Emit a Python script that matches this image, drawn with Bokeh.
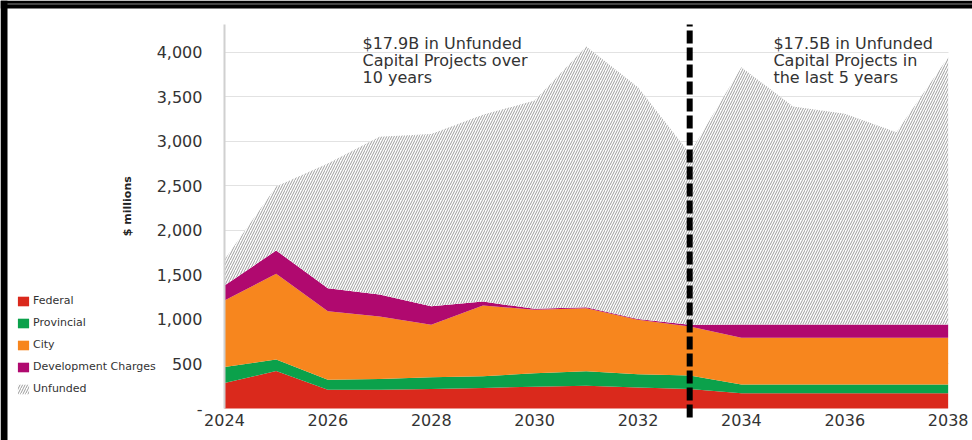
import math
from bokeh.plotting import figure
from bokeh.models import (Range1d, FixedTicker, Label, Legend, LegendItem,
                          ColumnDataSource)
from bokeh.transform import stack
from bokeh.embed import file_html
from bokeh.resources import INLINE

# ---- data ($ millions) ----
years = list(range(2024, 2039))
federal = [285, 420, 210, 210, 220, 230, 245, 255, 235, 220, 170, 170, 170, 170, 170]
provincial = [180, 130, 112, 120, 130, 133, 150, 162, 148, 150, 100, 100, 100, 100, 100]
city = [747, 961, 770, 702, 589, 793, 712, 708, 612, 550, 523, 523, 523, 523, 523]
dev_charges = [168, 262, 258, 247, 209, 44, 11, 12, 8, 20, 149, 149, 149, 149, 149]
unfunded = [290, 717, 1400, 1771, 1932, 2095, 2338, 2925, 2602, 1920, 2888, 2446, 2364, 2158, 3000]

series_keys = ["federal", "provincial", "city", "dev_charges", "unfunded"]
series_labels = ["Federal", "Provincial", "City", "Development Charges", "Unfunded"]
series_colors = ["#da291c", "#0ba14b", "#f7861e", "#b0096f", "#ffffff"]

x_ticks = [2024, 2026, 2028, 2030, 2032, 2034, 2036, 2038]
y_ticks = [0, 500, 1000, 1500, 2000, 2500, 3000, 3500, 4000]
y_tick_labels = ["-", "500", "1,000", "1,500", "2,000", "2,500", "3,000", "3,500", "4,000"]

y_axis_title = "$ millions"
divider_year = 2033
note_left = "$17.9B in Unfunded\nCapital Projects over\n10 years"
note_right = "$17.5B in Unfunded\nCapital Projects in\nthe last 5 years"

src = ColumnDataSource(dict(year=years, federal=federal, provincial=provincial,
                            city=city, dev_charges=dev_charges, unfunded=unfunded))

FONT = "DejaVu Sans"
TXT = "#333333"
X0, X1 = years[0], years[-1]
Y_TOP = 4308
W, H = 972, 440
XR = (2019.667, 2038.471)
YR = (-359, 4578)
PX_X = (XR[1] - XR[0]) / W   # data units per pixel
PX_Y = (YR[1] - YR[0]) / H

p = figure(width=W, height=H, output_backend="svg", toolbar_location=None,
           x_range=Range1d(*XR), y_range=Range1d(*YR),
           min_border_left=0, min_border_right=0, min_border_top=0,
           min_border_bottom=0)
p.outline_line_color = None
p.background_fill_color = "white"
p.border_fill_color = "white"

renderers = []
for i, k in enumerate(series_keys):
    kw = {}
    if k == "unfunded":
        kw = dict(hatch_pattern="/", hatch_color="#9c9c9c", hatch_scale=5, hatch_weight=1)
    r = p.varea(x="year", y1=stack(*series_keys[:i]), y2=stack(*series_keys[:i + 1]),
                source=src, fill_color=series_colors[i], **kw)
    renderers.append(r)

# divider (dashed), runs a little below the baseline
p.segment(x0=[divider_year], y0=[-100], x1=[divider_year], y1=[Y_TOP],
          line_color="black", line_width=6, line_dash="13 4", line_cap="butt")

# annotations
for xx, txt in [(2026.67, note_left), (2034.62, note_right)]:
    p.add_layout(Label(x=xx, y=4200, text=txt, text_baseline="top", text_align="left",
                       text_font=FONT, text_font_size="16px", text_color=TXT,
                       text_line_height=0.9))

# y axis title (rotated)
p.add_layout(Label(x=2022.12, y=2270, text=y_axis_title, angle=math.pi / 2,
                   text_align="center", text_baseline="middle", text_font=FONT,
                   text_font_size="11px", text_font_style="bold",
                   text_color="#222222"))

# axes
ya = p.yaxis[0]
ya.fixed_location = X0
ya.ticker = FixedTicker(ticks=y_ticks)
ya.major_label_overrides = {t: l for t, l in zip(y_ticks, y_tick_labels)}
ya.bounds = (0, Y_TOP)
ya.axis_line_color = "#d0d0d0"
ya.axis_line_width = 2
ya.major_tick_line_color = None
ya.minor_tick_line_color = None
ya.major_tick_out = 0
ya.major_tick_in = 0
ya.major_label_standoff = 22
ya.major_label_text_font = FONT
ya.major_label_text_font_size = "16px"
ya.major_label_text_color = TXT

xa = p.xaxis[0]
xa.fixed_location = 0
xa.ticker = FixedTicker(ticks=x_ticks)
xa.axis_line_color = None
xa.major_tick_line_color = None
xa.minor_tick_line_color = None
xa.major_tick_out = 0
xa.major_tick_in = 0
xa.major_label_standoff = 5
xa.major_label_text_font = FONT
xa.major_label_text_font_size = "16px"
xa.major_label_text_color = TXT

p.xgrid.visible = False
p.ygrid.grid_line_color = "#e2e2e2"
p.ygrid.grid_line_width = 1
p.ygrid.ticker = FixedTicker(ticks=y_ticks[1:])
p.ygrid.cross_bounds = (X0, X1)

legend = Legend(items=[LegendItem(label=lab, renderers=[r])
                       for lab, r in zip(series_labels, renderers)],
                location=(16, H - 395), orientation="vertical",
                glyph_width=14, glyph_height=12, label_height=12, spacing=9,
                padding=0, margin=0, border_line_color=None,
                background_fill_alpha=0, label_standoff=3,
                label_text_font=FONT, label_text_font_size="11px",
                label_text_color=TXT)
p.add_layout(legend)

# thick black frame edges (top and left) of the original picture, as plain quads
band_left = [XR[0], XR[0], XR[0] + 7 * PX_X]
band_right = [XR[1], XR[0] + 7 * PX_X, XR[1]]
band_bottom = [YR[1] - 8 * PX_Y, YR[0], YR[1] - 4 * PX_Y]
band_top = [YR[1], YR[1], YR[1] - 3 * PX_Y]
band_color = ["black", "black", "#8a8a8a"]
p.quad(left=band_left, right=band_right, bottom=band_bottom, top=band_top,
       fill_color=band_color, line_color=None)

open("out.html", "w").write(file_html(p, INLINE))
